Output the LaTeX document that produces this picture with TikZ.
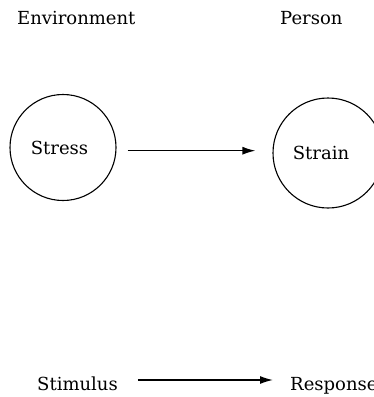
\documentclass[tikz,border=0pt]{standalone}
\usepackage{fontspec}
\setmainfont{DejaVu Serif}
\usetikzlibrary{arrows.meta}
\begin{document}
\begin{tikzpicture}[x=1pt,y=-1pt,
  lbl/.style={inner sep=0pt,font=\fontsize{18}{22}\selectfont},
  ring/.style={draw,circle,line width=1.1pt,inner sep=0pt,font=\fontsize{18}{22}\selectfont},
  arr/.style={line width=1.3pt,-{Latex[length=13pt,width=8pt]}}]
\useasboundingbox (0,0) rectangle (373,397);
% column headings
\node[lbl,anchor=base west] (env) at (17,24) {Environment};
\node[lbl,anchor=base west] (per) at (280,24) {Person};
% stress produces strain (words sit a little left of each circle's centre)
\node[ring,minimum size=106pt] (stress) at (63,147.5) {Stress\kern7pt};
\node[ring,minimum size=110pt] (strain) at (328,153) {Strain\kern14pt};
\draw[arr] ([xshift=11pt,yshift=-3.2pt]stress.east) -- ([xshift=-17pt,yshift=2.3pt]strain.west);
% stimulus leads to response
\node[lbl,anchor=base west] (stim) at (37,390) {Stimulus};
\node[lbl,anchor=base west] (resp) at (290,390) {Response};
\draw[arr] ([xshift=20pt,yshift=10pt]stim.base east) -- ([xshift=-17pt,yshift=10pt]resp.base west);
\end{tikzpicture}
\end{document}
